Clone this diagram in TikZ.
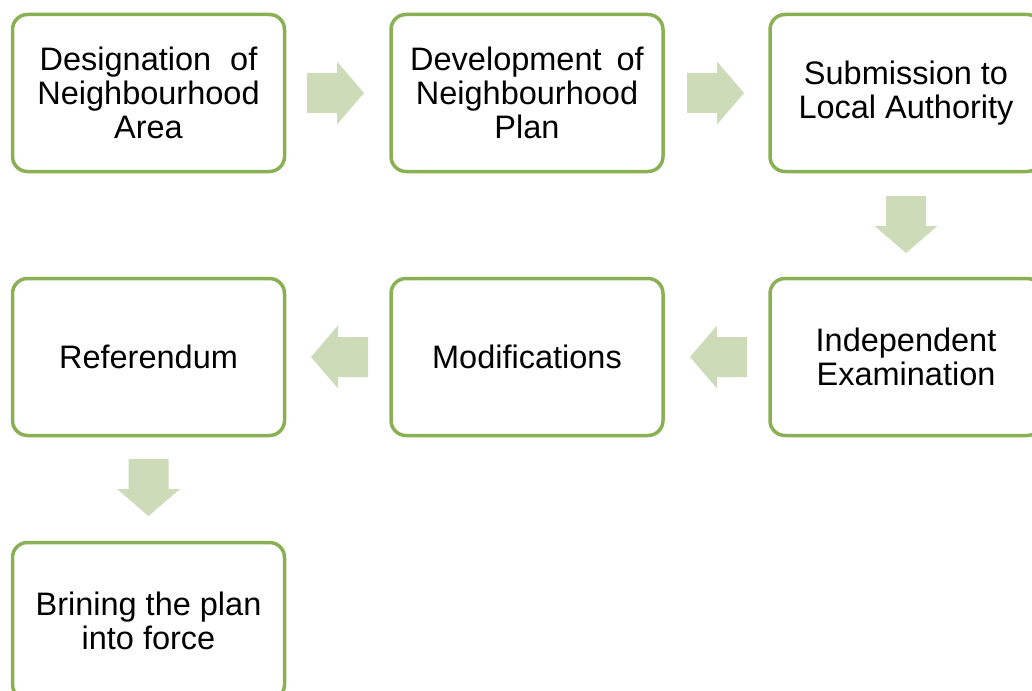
\documentclass[tikz,border=0pt]{standalone}
\usepackage{fontspec}
\setmainfont{Liberation Sans}
\definecolor{boxline}{HTML}{8AB054}
\definecolor{arrowfill}{HTML}{CDDBB8}
\tikzset{
  stage/.style={draw=boxline, line width=3.5pt, rounded corners=15pt, fill=white,
    minimum width=272pt, minimum height=157pt, align=center, inner sep=0pt,
    font=\fontsize{32.5}{34}\selectfont},
  blockarrow/.pic={
    \fill[arrowfill] (0,-20) -- (30,-20) -- (30,-31.5) -- (57,0) -- (30,31.5)
      -- (30,20) -- (0,20) -- cycle;
  }
}
\begin{document}
\begin{tikzpicture}[x=1pt,y=-1pt]
  \useasboundingbox (0,0) rectangle (1032,690);
  \clip (0,0) rectangle (1032,690);
  % process stages
  \node[stage] (desig) at (148.5,93) {Designation\hspace{10pt} of\\Neighbourhood\\Area};
  \node[stage] (devel) at (527,93) {Development\hspace{6pt} of\\Neighbourhood\\Plan};
  \node[stage] (submit) at (906,93) {Submission to\\Local Authority};
  \node[stage] (exam) at (906,357) {Independent\\Examination};
  \node[stage] (modif) at (527,357) {Modifications};
  \node[stage] (refer) at (148.5,357) {Referendum};
  \node[stage] (force) at (148.5,621) {Brining the plan\\into force};
  % block arrows between the stages
  \pic at (307,93) {blockarrow};
  \pic at (687,93) {blockarrow};
  \pic[rotate=-90] at (906,196) {blockarrow};
  \pic[rotate=180] at (747,357) {blockarrow};
  \pic[rotate=180] at (368,357) {blockarrow};
  \pic[rotate=-90] at (148.5,459) {blockarrow};
\end{tikzpicture}
\end{document}
